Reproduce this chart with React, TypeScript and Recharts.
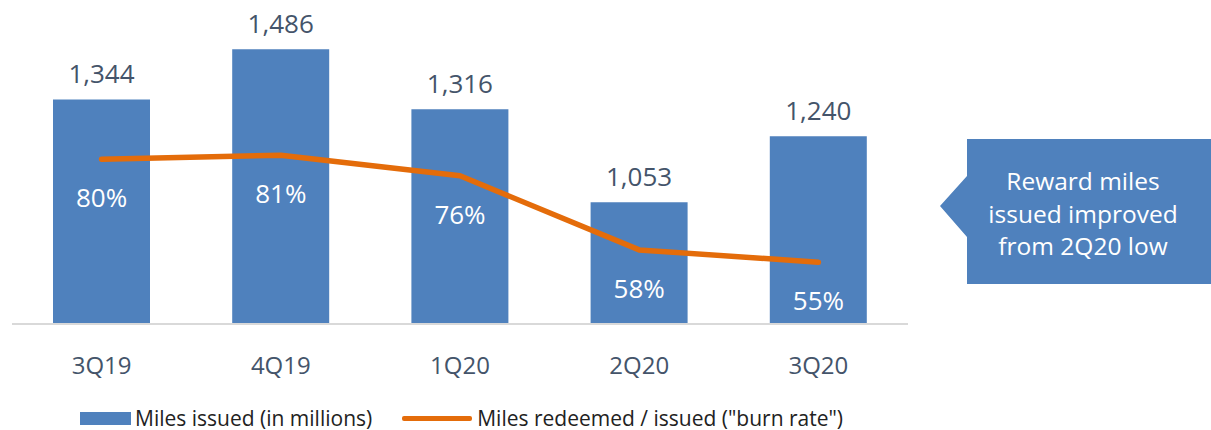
import React from 'react';
import { ComposedChart, Bar, Line, XAxis, YAxis, LabelList } from 'recharts';

const quarters = ['3Q19', '4Q19', '1Q20', '2Q20', '3Q20'];
const milesIssued = [1344, 1486, 1316, 1053, 1240];
const burnRate = [0.8, 0.81, 0.76, 0.58, 0.55];
const calloutLines = ['Reward miles', 'issued improved', 'from 2Q20 low'];

const data = quarters.map((q, i) => ({
  quarter: q,
  issued: milesIssued[i],
  burn: burnRate[i],
}));

const FONT = '"Open Sans", sans-serif';
const BLUE = '#4F81BD';
const ORANGE = '#E46C0A';
const TEXT = '#44546A';

const BarValueLabel = (props: any) => {
  const { x, y, width, value } = props;
  return (
    <text
      x={x + width / 2}
      y={y - 26}
      textAnchor="middle"
      dominantBaseline="central"
      fill={TEXT}
      fontSize={26}
      fontFamily={FONT}
    >
      {value.toLocaleString('en-US')}
    </text>
  );
};

const PctLabel = (props: any) => {
  const { x, y, value } = props;
  return (
    <text
      x={x}
      y={y + 38}
      textAnchor="middle"
      dominantBaseline="central"
      fill="#ffffff"
      fontSize={26}
      fontFamily={FONT}
    >
      {Math.round(value * 100)}%
    </text>
  );
};

const QuarterTick = (props: any) => {
  const { x, y, payload } = props;
  return (
    <text
      x={x}
      y={y + 32}
      textAnchor="middle"
      dominantBaseline="central"
      fill={TEXT}
      fontSize={24}
      fontFamily={FONT}
    >
      {payload.value}
    </text>
  );
};

export default function App() {
  return (
    <div style={{ position: 'absolute', left: 0, top: 0, width: 1211, height: 430, background: '#fff', fontFamily: FONT }}>
      <ComposedChart
        width={1211}
        height={430}
        data={data}
        margin={{ top: 9, right: 303, bottom: 0, left: 12 }}
        barCategoryGap="23%"
      >
        <XAxis
          dataKey="quarter"
          height={106}
          axisLine={{ stroke: '#D9D9D9', strokeWidth: 2 }}
          tickLine={false}
          tick={<QuarterTick />}
          interval={0}
        />
        <YAxis yAxisId="left" hide domain={[708, 1600]} />
        <YAxis yAxisId="right" hide orientation="right" domain={[0.4, 1.165]} />
        <Bar yAxisId="left" dataKey="issued" fill={BLUE} barSize={97} isAnimationActive={false}>
          <LabelList dataKey="issued" content={<BarValueLabel />} />
        </Bar>
        <Line
          yAxisId="right"
          type="linear"
          dataKey="burn"
          stroke={ORANGE}
          strokeWidth={5.5}
          strokeLinecap="round"
          strokeLinejoin="round"
          dot={false}
          activeDot={false}
          isAnimationActive={false}
        >
          <LabelList dataKey="burn" content={<PctLabel />} />
        </Line>
      </ComposedChart>

      {/* callout box */}
      <div
        style={{
          position: 'absolute',
          left: 940,
          top: 139,
          width: 271,
          height: 145,
          background: BLUE,
          clipPath: 'polygon(27px 0, 100% 0, 100% 100%, 27px 100%, 27px 98px, 0 67px, 27px 37px)',
        }}
      />
      <div
        style={{
          position: 'absolute',
          left: 967,
          top: 165,
          width: 232,
          textAlign: 'center',
          color: '#fff',
          fontSize: 24.5,
          lineHeight: '32.5px',
        }}
      >
        {calloutLines.map((l) => (
          <div key={l}>{l}</div>
        ))}
      </div>

      {/* legend */}
      <div style={{ position: 'absolute', left: 80, top: 404, display: 'flex', alignItems: 'center', fontSize: 21, color: '#222' }}>
        <div style={{ width: 51, height: 13, background: BLUE, marginRight: 4 }} />
        <span>Miles issued (in millions)</span>
        <div style={{ width: 70, height: 5, borderRadius: 2, background: ORANGE, marginLeft: 30, marginRight: 5 }} />
        <span>Miles redeemed / issued ("burn rate")</span>
      </div>
    </div>
  );
}
